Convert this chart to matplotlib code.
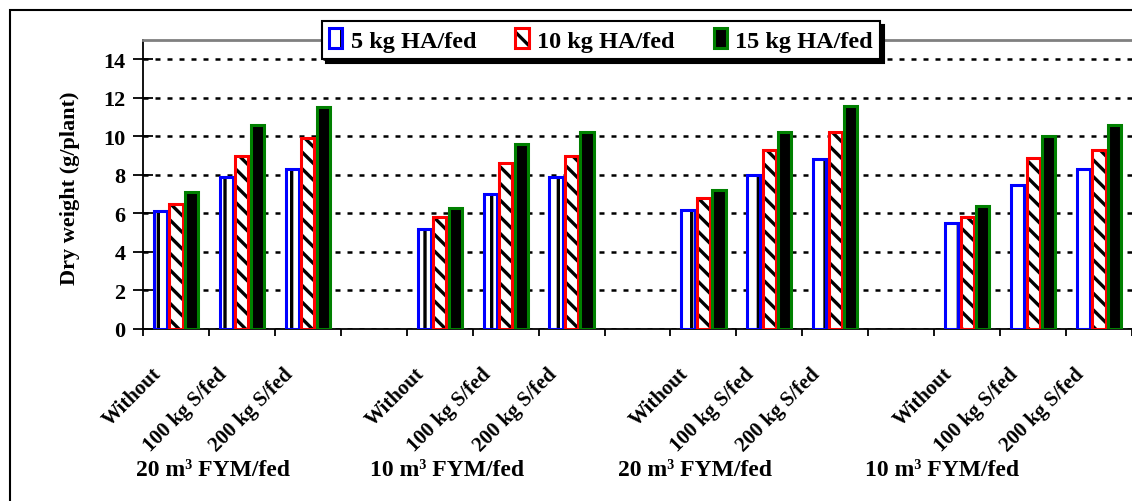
import matplotlib
matplotlib.use("Agg")
import matplotlib.pyplot as plt
import matplotlib.transforms as mtransforms
from matplotlib.patches import Patch, Rectangle
from matplotlib.legend_handler import HandlerTuple

plt.rcParams['font.family'] = ['Liberation Serif', 'DejaVu Serif']
plt.rcParams['font.weight'] = 'bold'
plt.rcParams['hatch.linewidth'] = 2.4

# ---------- Dati ------------ #
groups = ['20 m³ FYM/fed', '10 m³ FYM/fed', '20 m³ FYM/fed', '10 m³ FYM/fed']
sulfur = ['Without', '100 kg S/fed', '200 kg S/fed']
series = ['5 kg HA/fed', '10 kg HA/fed', '15 kg HA/fed']

ha_5 = [6.1, 7.9, 8.3, 5.2, 7.0, 7.9, 6.2, 8.0, 8.8, 5.5, 7.5, 8.3]
ha_10 = [6.5, 9.0, 9.9, 5.8, 8.6, 9.0, 6.8, 9.3, 10.2, 5.8, 8.9, 9.3]
ha_15 = [7.1, 10.6, 11.5, 6.3, 9.6, 10.2, 7.2, 10.2, 11.6, 6.4, 10.0, 10.6]

# ---------- Grafico ------------ #
fig = plt.figure(figsize=(11.32, 5.02), dpi=100)
ax = fig.add_axes([143 / 1132, 1 - 330 / 502, 1 - 143 / 1132, 289 / 502])

# posizioni: 3 categorie per gruppo + uno spazio vuoto
xpos = [g * 4 + i for g in range(len(groups)) for i in range(len(sulfur))]
labels = [s for g in groups for s in sulfur]

colors = ['#0000ff', '#ff0000', '#008000']
hatches = ['|', '\\\\', None]
fills = ['white', 'white', 'black']
offsets = [-0.235, 0.0, 0.235]
width = 0.2

for vals, col, h, fc, off in zip([ha_5, ha_10, ha_15], colors, hatches, fills, offsets):
    x = [p + off for p in xpos]
    ax.bar(x, vals, width, color=fc, edgecolor='black', hatch=h, linewidth=0, zorder=2)
    ax.bar(x, vals, width, fill=False, edgecolor=col, linewidth=2.2, zorder=3)

ax.set_xlim(-0.5, 14.5)
ax.set_ylim(0, 15)
ax.set_yticks(range(0, 15, 2))
ax.tick_params(axis='y', direction='inout', length=15, width=1.3, labelsize=16, pad=5)

ax.set_xticks(xpos)
ax.set_xticklabels(labels, rotation=45, ha='right', va='center', rotation_mode='anchor',
                   fontsize=15, fontweight='bold')
ax.tick_params(axis='x', which='major', length=0, pad=30)
shift = mtransforms.ScaledTranslation(-18 / 100, 0, fig.dpi_scale_trans)
for lab in ax.get_xticklabels():
    lab.set_transform(lab.get_transform() + shift)
ax.set_xticks([i - 0.5 for i in range(16)], minor=True)
ax.tick_params(axis='x', which='minor', direction='out', length=5, width=1.3)

ax.set_axisbelow(True)
ax.yaxis.grid(True, color='black', linestyle=(0, (2, 2.8)), linewidth=1.8)
ax.xaxis.grid(False)

ax.spines['left'].set_linewidth(1.3)
ax.spines['bottom'].set_linewidth(1.3)
ax.spines['top'].set_color('#808080')
ax.spines['top'].set_linewidth(2)
ax.spines['right'].set_visible(False)

ax.set_ylabel('Dry weight (g/plant)', fontsize=16, fontweight='bold')
ax.yaxis.set_label_coords((80 - 143) / 989, 0.49)

group_x = [-0.6, 2.95, 6.7, 10.45]
for gx, gl in zip(group_x, groups):
    ax.text(gx, 1 - 476 / 502, gl, fontsize=17, fontweight='bold', ha='left', va='baseline',
            transform=mtransforms.blended_transform_factory(ax.transData, fig.transFigure))

# legenda
handles = []
for col, h, fc in zip(colors, hatches, fills):
    under = Patch(facecolor=fc, edgecolor='black', hatch=h, linewidth=0)
    over = Patch(fill=False, edgecolor=col, linewidth=2.2)
    handles.append((under, over))
leg = ax.legend(handles, series, ncol=3, loc='center', bbox_to_anchor=(601 / 1132, 1 - 41 / 502),
                bbox_transform=fig.transFigure, prop={'size': 17.5, 'weight': 'bold'},
                frameon=True, fancybox=False,
                edgecolor='black', framealpha=1, handlelength=0.55, handleheight=0.85,
                handletextpad=0.35, columnspacing=1.6, borderpad=0.3,
                shadow={'ox': 3, 'oy': -3, 'color': 'black', 'alpha': 1},
                handler_map={tuple: HandlerTuple(ndivide=1, pad=0)})
leg.get_frame().set_linewidth(1.5)
leg.set_zorder(10)

# cornice esterna
fig.patches.append(Rectangle((10 / 1132, -0.1), 1.2, 1 - 11 / 502 + 0.1, transform=fig.transFigure,
                             fill=False, edgecolor='black', linewidth=1.5))

fig.savefig('out.png', dpi=100)
